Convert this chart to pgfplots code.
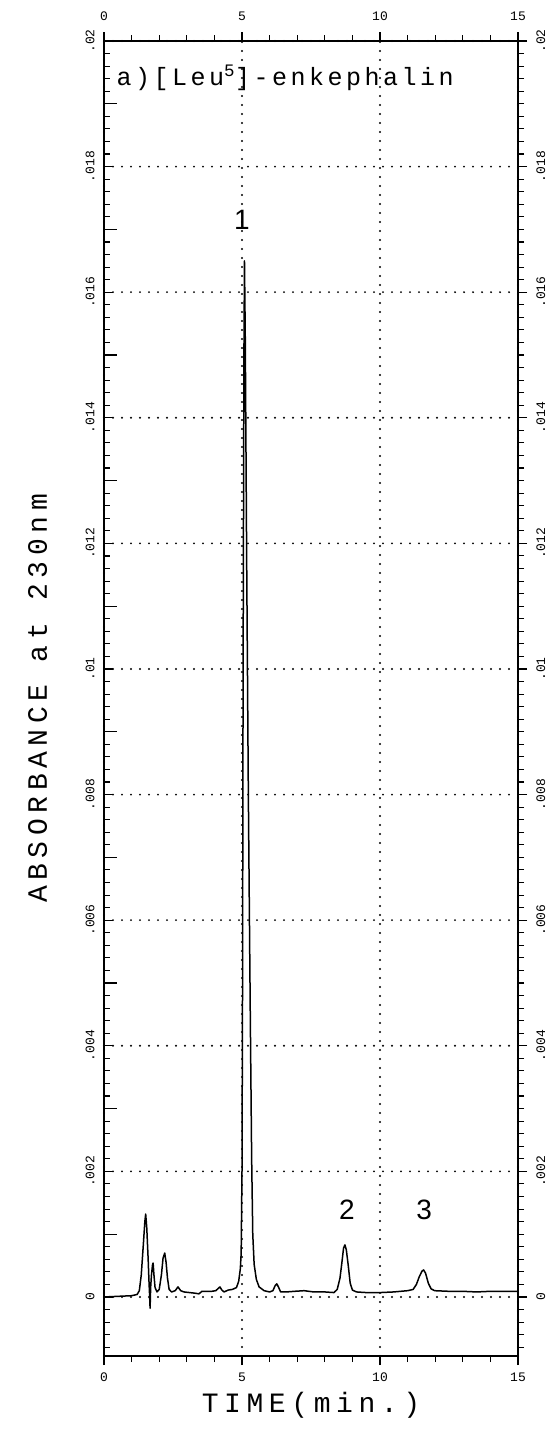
\documentclass[border=0pt]{standalone}
\usepackage{fontspec}
\usepackage{pgfplots}
\pgfplotsset{compat=1.18}
\newfontfamily\labelfont[LetterSpace=20]{Liberation Mono}
\newfontfamily\titlefont[LetterSpace=14]{Liberation Mono}
\newfontfamily\tickfont{Liberation Mono}
\newfontfamily\peakfont{Liberation Sans}

% chromatogram trace: time (min) vs absorbance
\pgfplotstableread{
x y
0.00 0.00000
0.50 0.00001
1.00 0.00002
1.20 0.00004
1.28 0.00010
1.35 0.00035
1.42 0.00080
1.48 0.00120
1.51 0.00132
1.55 0.00110
1.60 0.00060
1.63 0.00025
1.65 0.00005
1.67 -0.00018
1.69 0.00015
1.72 0.00035
1.76 0.00052
1.78 0.00054
1.81 0.00035
1.85 0.00015
1.92 0.00008
2.00 0.00012
2.08 0.00035
2.14 0.00062
2.20 0.00070
2.25 0.00055
2.30 0.00030
2.36 0.00012
2.45 0.00008
2.58 0.00010
2.68 0.00016
2.78 0.00010
2.90 0.00008
3.10 0.00007
3.30 0.00006
3.44 0.00005
3.55 0.00009
3.70 0.00009
3.90 0.00009
4.05 0.00010
4.15 0.00014
4.20 0.00016
4.27 0.00011
4.35 0.00008
4.50 0.00011
4.65 0.00012
4.80 0.00015
4.88 0.00025
4.94 0.00045
4.97 0.00070
5.00 0.00200
5.02 0.00500
5.04 0.01000
5.07 0.01500
5.09 0.01650
5.12 0.01520
5.17 0.01170
5.23 0.00800
5.30 0.00450
5.35 0.00220
5.39 0.00100
5.44 0.00052
5.52 0.00028
5.62 0.00016
5.80 0.00010
6.00 0.00008
6.12 0.00010
6.20 0.00018
6.26 0.00021
6.32 0.00016
6.40 0.00008
6.60 0.00008
6.90 0.00009
7.25 0.00010
7.60 0.00008
8.00 0.00008
8.33 0.00007
8.45 0.00012
8.55 0.00030
8.62 0.00055
8.68 0.00078
8.73 0.00083
8.78 0.00075
8.85 0.00050
8.92 0.00022
9.00 0.00011
9.15 0.00008
9.50 0.00007
10.00 0.00007
10.50 0.00008
11.00 0.00010
11.20 0.00012
11.32 0.00020
11.42 0.00032
11.52 0.00041
11.58 0.00043
11.65 0.00038
11.75 0.00022
11.85 0.00013
11.98 0.00010
12.50 0.00009
13.00 0.00009
13.50 0.00008
14.00 0.00009
14.50 0.00009
15.00 0.00009
}\trace

\pgfplotsset{
  chromframe/.style={
    scale only axis, width=414pt, height=1315pt,
    xmin=0, xmax=15, ymin=-0.00094, ymax=0.02,
    scaled ticks=false,
    axis line style={line width=1.6pt},
    xtick={0,5,10,15}, xticklabels={0,5,10,15},
    minor xtick={1,2,3,4,6,7,8,9,11,12,13,14},
    ytick={0,0.002,0.004,0.006,0.008,0.01,0.012,0.014,0.016,0.018,0.02},
    yticklabels={0,.002,.004,.006,.008,.01,.012,.014,.016,.018,.02},
    minor ytick={-0.0008,-0.0006,...,0.0199},
    major tick length=9pt, minor tick length=6pt,
    every tick/.style={black, line width=1.1pt},
    ticklabel style={font=\tickfont\fontsize{13}{13}\selectfont},
    xticklabel shift=4pt, yticklabel shift=6pt,
  }
}

\begin{document}
\begin{tikzpicture}
% left / bottom side, grid and trace
\begin{axis}[chromframe,
  tick pos=left,
  xtick align=outside, ytick align=inside,
  yticklabel style={rotate=90, anchor=south},
  extra y ticks={0.001,0.003,0.005,0.007,0.009,0.011,0.013,0.015,0.017,0.019},
  extra y tick labels={},
  extra y tick style={grid=none, major tick length=13pt},
  grid=major,
  major grid style={black, line width=2.1pt, line cap=round, dash pattern=on 0pt off 9pt},
  xlabel={\labelfont\fontsize{28}{28}\selectfont TIME(min.)},
  ylabel={\labelfont\fontsize{28}{28}\selectfont ABSORBANCE at 230nm},
  xlabel style={at={(axis description cs:0.5,-0.0373)}, anchor=center},
  ylabel style={at={(axis description cs:-0.16,0.5)}, anchor=center},
]
\addplot[black, line width=1.5pt, line join=round] table[x=x, y=y] {\trace};
\node[anchor=base west, font=\titlefont\fontsize{25}{25}\selectfont]
  at (axis description cs:0.022,0.9658) {a)[Leu\textsuperscript{5}]-enkephalin};
\node[font=\peakfont\fontsize{28}{28}\selectfont] at (axis cs:5.0,0.01715) {1};
\node[font=\peakfont\fontsize{28}{28}\selectfont] at (axis cs:8.8,0.00139) {2};
\node[font=\peakfont\fontsize{28}{28}\selectfont] at (axis cs:11.6,0.00139) {3};
\end{axis}
% right / top side labels
\begin{axis}[chromframe,
  axis line style={draw=none},
  tick pos=right, tick align=outside,
  xticklabel pos=right, yticklabel pos=right,
  yticklabel style={rotate=90, anchor=north},
  xticklabel shift=8pt,
]
\end{axis}
\pgfresetboundingbox
\path (-104pt,-87pt) rectangle (445pt,1356pt);
\end{tikzpicture}
\end{document}
